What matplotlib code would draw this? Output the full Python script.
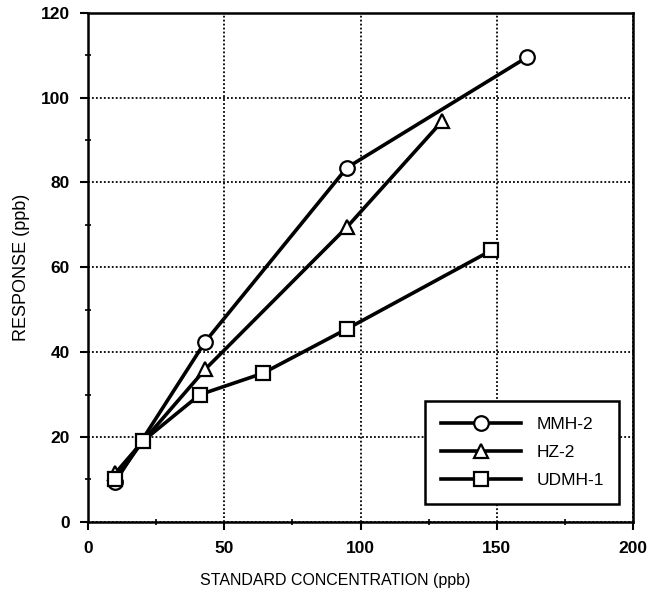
import numpy as np
import matplotlib.pyplot as plt
from matplotlib.ticker import MultipleLocator

# data
mmh_x = [10, 43, 95, 161]
mmh_y = [9.5, 42.5, 83.5, 109.5]
hz_x = [10, 43, 95, 130]
hz_y = [11.5, 36, 69.5, 94.5]
udmh_x = [10, 20, 41, 64, 95, 148]
udmh_y = [10, 19, 30, 35, 45.5, 64]

plt.rcParams['font.family'] = ['Liberation Sans', 'DejaVu Sans']

fig = plt.figure(figsize=(6.48, 6.09), dpi=100)
ax = fig.add_axes([0.136, 0.143, 0.841, 0.836])

style = dict(color='black', lw=2.6, mfc='white', mec='black', mew=1.6, ms=10.5)
ax.plot(mmh_x, mmh_y, marker='o', label='MMH-2', **style)
ax.plot(hz_x, hz_y, marker='^', label='HZ-2', **style)
ax.plot(udmh_x, udmh_y, marker='s', label='UDMH-1', **style)

ax.set_xlim(0, 200)
ax.set_ylim(0, 120)
ax.xaxis.set_major_locator(MultipleLocator(50))
ax.xaxis.set_minor_locator(MultipleLocator(25))
ax.yaxis.set_major_locator(MultipleLocator(20))
ax.yaxis.set_minor_locator(MultipleLocator(10))
ax.grid(True, which='major', color='black', linestyle=(0, (1, 1.2)), linewidth=1.3)
ax.set_axisbelow(True)

for s in ax.spines.values():
    s.set_linewidth(1.8)
ax.tick_params(which='major', direction='out', length=6, width=1.5, labelsize=12.5)
ax.tick_params(axis='y', which='major', pad=7)
ax.tick_params(axis='x', which='major', pad=8)
ax.tick_params(which='minor', direction='inout', length=4, width=1.2)
for t in ax.get_xticklabels() + ax.get_yticklabels():
    t.set_fontweight('bold')

ax.set_xlabel('STANDARD CONCENTRATION (ppb)', fontsize=11.5)
ax.xaxis.set_label_coords(0.453, -0.10)
ax.set_ylabel('RESPONSE (ppb)', fontsize=13, labelpad=8)

leg = ax.legend(loc='lower right', bbox_to_anchor=(0.975, 0.035), fontsize=12.5,
                handlelength=4.6, frameon=True, fancybox=False, borderpad=0.9,
                labelspacing=0.75, handletextpad=0.9, borderaxespad=0)
leg.get_frame().set_edgecolor('black')
leg.get_frame().set_linewidth(1.8)
leg.get_frame().set_alpha(1)

plt.savefig('out.png', dpi=100)
